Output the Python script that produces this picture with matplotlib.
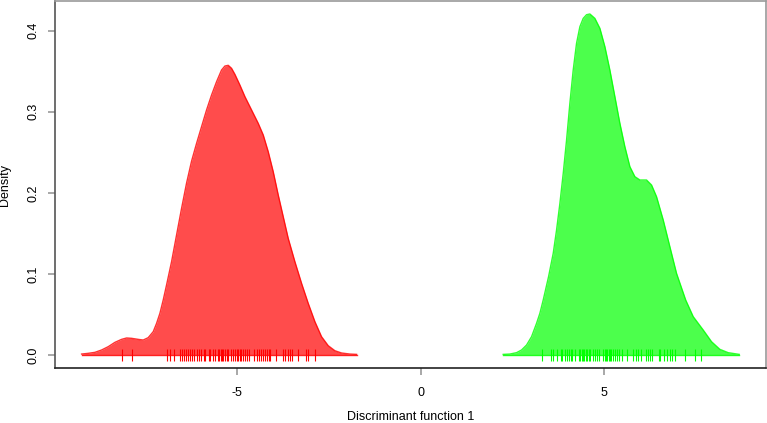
import matplotlib
matplotlib.use("Agg")
import matplotlib.pyplot as plt
import numpy as np

plt.rcParams['font.family'] = ['Liberation Sans', 'DejaVu Sans']

# density curves (discriminant score, density)
red_x = [-9.245, -9.064, -8.882, -8.700, -8.518, -8.337, -8.155, -8.018, -7.882,
         -7.700, -7.564, -7.428, -7.291, -7.200, -7.109, -7.019, -6.928, -6.791,
         -6.655, -6.518, -6.382, -6.246, -6.109, -5.973, -5.837, -5.700, -5.564,
         -5.428, -5.337, -5.246, -5.155, -5.064, -4.928, -4.791, -4.609, -4.428,
         -4.291, -4.155, -4.019, -3.882, -3.746, -3.610, -3.428, -3.246, -3.064,
         -2.882, -2.701, -2.519, -2.337, -2.155, -1.928, -1.746]
red_y = [0.0012, 0.0021, 0.0033, 0.0062, 0.0103, 0.0156, 0.0193, 0.0210, 0.0206,
         0.0193, 0.0185, 0.0214, 0.0288, 0.0390, 0.0514, 0.0678, 0.0863, 0.1151,
         0.1480, 0.1809, 0.2120, 0.2390, 0.2610, 0.2816, 0.3021, 0.3206, 0.3370,
         0.3514, 0.3563, 0.3572, 0.3535, 0.3461, 0.3329, 0.3186, 0.3021, 0.2857,
         0.2713, 0.2507, 0.2261, 0.1973, 0.1706, 0.1439, 0.1151, 0.0884, 0.0637,
         0.0411, 0.0226, 0.0115, 0.0053, 0.0025, 0.0012, 0.0008]

green_x = [2.253, 2.435, 2.617, 2.753, 2.890, 3.026, 3.162, 3.253, 3.344, 3.490,
           3.617, 3.708, 3.799, 3.890, 3.981, 4.071, 4.162, 4.253, 4.344, 4.435,
           4.526, 4.617, 4.753, 4.890, 5.026, 5.162, 5.299, 5.435, 5.571, 5.708,
           5.844, 5.981, 6.162, 6.299, 6.435, 6.617, 6.798, 6.980, 7.230, 7.435,
           7.708, 7.935, 8.162, 8.389, 8.689]
green_y = [0.0008, 0.0012, 0.0029, 0.0062, 0.0123, 0.0226, 0.0390, 0.0514, 0.0678,
           0.0966, 0.1254, 0.1541, 0.1870, 0.2240, 0.2651, 0.3103, 0.3514, 0.3843,
           0.4048, 0.4151, 0.4196, 0.4205, 0.4151, 0.4028, 0.3802, 0.3514, 0.3185,
           0.2857, 0.2569, 0.2322, 0.2199, 0.2158, 0.2158, 0.2096, 0.1952, 0.1665,
           0.1336, 0.1007, 0.0678, 0.0473, 0.0308, 0.0164, 0.0070, 0.0029, 0.0008]

# individual scores (rug)
red_scores = [-8.14, -7.86, -6.91, -6.84, -6.73, -6.56, -6.51, -6.45, -6.40,
              -6.34, -6.29, -6.24, -6.18, -6.11, -6.04, -6.00, -5.91, -5.87,
              -5.78, -5.73, -5.67, -5.60, -5.53, -5.49, -5.45, -5.42, -5.38,
              -5.33, -5.27, -5.24, -5.18, -5.11, -5.06, -5.00, -4.97, -4.93,
              -4.89, -4.84, -4.78, -4.73, -4.67, -4.53, -4.47, -4.42, -4.36,
              -4.31, -4.25, -4.20, -4.14, -4.11, -3.95, -3.76, -3.69, -3.62,
              -3.56, -3.51, -3.35, -3.13, -3.06, -2.88]
green_scores = [3.30, 3.57, 3.60, 3.73, 3.82, 3.87, 3.93, 3.98, 4.04, 4.09,
                4.14, 4.22, 4.33, 4.36, 4.40, 4.44, 4.47, 4.51, 4.54, 4.58,
                4.62, 4.71, 4.76, 4.82, 4.87, 4.98, 5.02, 5.05, 5.09, 5.13,
                5.16, 5.20, 5.25, 5.31, 5.36, 5.42, 5.49, 5.62, 5.80, 5.87,
                5.93, 6.02, 6.14, 6.20, 6.25, 6.31, 6.49, 6.54, 6.63, 6.71,
                6.80, 6.87, 6.94, 7.22, 7.49, 7.65]

x_ticks = [-5, 0, 5]
y_ticks = [0.0, 0.1, 0.2, 0.3, 0.4]

fig = plt.figure(figsize=(7.67, 4.23), dpi=100)
ax = fig.add_axes([55/767, 1 - 368/423, 711/767, 367/423])

for xs, ys, sc, col in [(red_x, red_y, red_scores, 'red'),
                        (green_x, green_y, green_scores, '#00ff00')]:
    ax.fill_between(xs, ys, 0, color=col, alpha=0.7, linewidth=0)
    ax.plot(xs, ys, color=col, linewidth=1, alpha=0.8)
    ax.plot([xs[0], xs[-1]], [0, 0], color=col, linewidth=1, alpha=0.8)
    ax.plot(sc, np.zeros(len(sc)), linestyle='none', marker='|',
            markersize=9, markeredgewidth=0.8, color=col)

ax.set_xlim(-9.97, 9.42)
ax.set_ylim(-0.016, 0.4365)
ax.set_xticks(x_ticks)
ax.set_xticklabels(['-5', '0', '5'])
ax.set_yticks(y_ticks)
ax.set_yticklabels(['0.0', '0.1', '0.2', '0.3', '0.4'], rotation=90, va='center')

ax.tick_params(axis='both', direction='out', length=5, width=1.2,
               color='#999999', labelsize=9, pad=9)
ax.tick_params(axis='y', pad=6)
ax.spines['left'].set_color('#555555')
ax.spines['bottom'].set_color('#222222')
ax.spines['top'].set_color('#999999')
ax.spines['right'].set_color('#999999')
for s in ax.spines.values():
    s.set_linewidth(1.2)

ax.set_xlabel('Discriminant function 1', fontsize=9, labelpad=8.5)
ax.set_ylabel('Density', fontsize=9, labelpad=12)

fig.savefig('out.png', dpi=100)
